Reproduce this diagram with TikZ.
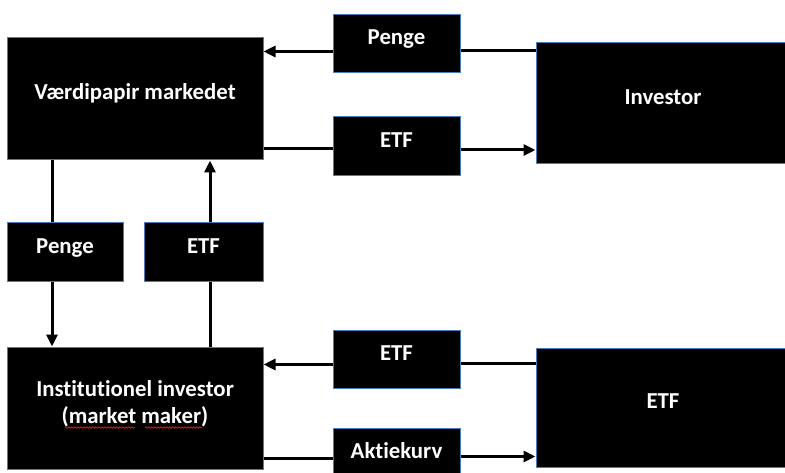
\documentclass[tikz,border=0pt]{standalone}
\usepackage{fontspec}
\setmainfont[Ligatures={NoCommon,TeX},RawFeature={-liga}]{Carlito}
\usetikzlibrary{arrows.meta,decorations.pathmorphing}
\definecolor{bordercol}{HTML}{4A7EBB}
\definecolor{squig}{HTML}{E02020}
\tikzset{
  box/.style={draw=bordercol, line width=1pt, fill=black, text=white,
    font=\fontsize{22.8}{27}\selectfont\bfseries, inner sep=0pt,
    text height=8pt, text depth=6pt},
  bigtext/.style={text height=, text depth=, align=center},
  conn/.style={line width=3pt, black},
  arr/.style={conn, -{Triangle[length=12pt,width=11pt]}},
  squiggle/.style={squig, line width=0.7pt, decorate,
    decoration={snake, amplitude=0.8pt, segment length=3pt}},
}
\begin{document}
\begin{tikzpicture}[x=1pt,y=-1pt]
  \useasboundingbox (0,0) rectangle (785,473);
  \clip (0,0) rectangle (785,473);
  \fill[white] (0,0) rectangle (785,473);

  % boxes
  \node[box, minimum width=256pt, minimum height=122pt] (vp) at (135,99) {Værdipapir markedet};
  \node[box, minimum width=127pt, minimum height=58pt] (pt) at (396.5,44) {Penge};
  \node[box, minimum width=127pt, minimum height=59pt] (et) at (396.5,146.5) {ETF};
  \node[box, minimum width=254pt, minimum height=121pt] (inv) at (663,103.5) {Investor};
  \node[box, minimum width=116pt, minimum height=59pt] (pl) at (65,252.5) {Penge};
  \node[box, minimum width=119pt, minimum height=59pt] (el) at (203.5,252.5) {ETF};
  \node[box, bigtext, minimum width=256pt, minimum height=122pt] (ii) at (135,408)
    {\rule{0pt}{17pt}Institutionel investor\\(market maker)\rule[-14pt]{0pt}{14pt}};
  \node[box, minimum width=127pt, minimum height=58pt] (em) at (396.5,359) {ETF};
  \node[box, minimum width=127pt, minimum height=58pt] (ak) at (396.5,457) {Aktiekurv};
  \node[box, minimum width=254pt, minimum height=119pt] (eb) at (663,407.5) {ETF};

  % connector levels
  \coordinate (y1a) at (0,50.5);
  \coordinate (y1b) at (0,51.5);
  \coordinate (y2a) at (0,149);
  \coordinate (y2b) at (0,150);
  \coordinate (x1) at (52,0);
  \coordinate (x2) at (210,0);
  \coordinate (y3a) at (0,363);
  \coordinate (y3b) at (0,364.5);
  \coordinate (y4a) at (0,458);
  \coordinate (y4b) at (0,456.5);

  % top: money from investor to market
  \draw[conn] (inv.west |- y1a) -- (pt.east |- y1a);
  \draw[arr] (pt.west |- y1b) -- (vp.east |- y1b);
  % top: ETF from market to investor
  \draw[conn] (vp.east |- y2a) -- (et.west |- y2a);
  \draw[arr] (et.east |- y2b) -- (inv.west |- y2b);
  % left: money from market to institutional investor
  \draw[conn] (vp.south -| x1) -- (pl.north -| x1);
  \draw[arr] (pl.south -| x1) -- (ii.north -| x1);
  % left: ETF from institutional investor to market
  \draw[conn] (ii.north -| x2) -- (el.south -| x2);
  \draw[arr] (el.north -| x2) -- (vp.south -| x2);
  % bottom: ETF to institutional investor
  \draw[conn] (eb.west |- y3a) -- (em.east |- y3a);
  \draw[arr] (em.west |- y3b) -- (ii.east |- y3b);
  % bottom: share basket to ETF
  \draw[conn] (ii.east |- y4a) -- (ak.west |- y4a);
  \draw[arr] (ak.east |- y4b) -- (eb.west |- y4b);

  % spell-check squiggles
  \draw[squiggle] (65,427.5) -- (135,427.5);
  \draw[squiggle] (145,427.5) -- (202,427.5);
\end{tikzpicture}
\end{document}
